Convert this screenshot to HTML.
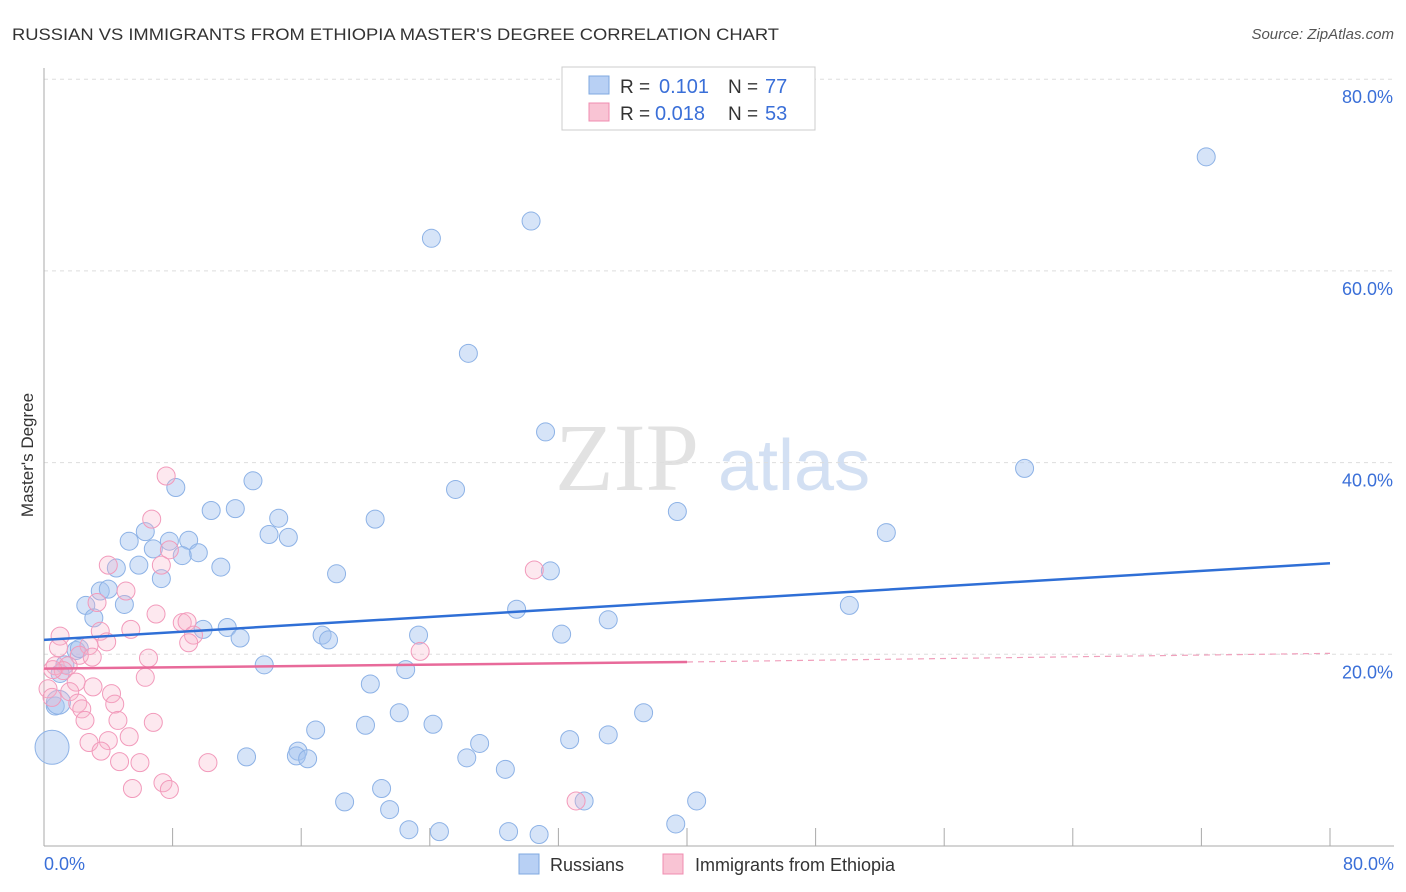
<!DOCTYPE html>
<html><head><meta charset="utf-8"><style>
body{margin:0;background:#fff;font-family:"Liberation Sans",sans-serif;}
svg{display:block}
</style></head><body>
<svg id="chart" width="1406" height="892">
<text x="12" y="40" font-size="17" fill="#333" textLength="767" lengthAdjust="spacingAndGlyphs">RUSSIAN VS IMMIGRANTS FROM ETHIOPIA MASTER'S DEGREE CORRELATION CHART</text>
<text x="1394" y="39" font-size="15" fill="#555" font-style="italic" text-anchor="end">Source: ZipAtlas.com</text>
<text x="33" y="455" font-size="17" fill="#333" transform="rotate(-90 33 455)" text-anchor="middle">Master's Degree</text>
<g><text x="555" y="490" font-size="96" font-family="Liberation Serif,serif" fill="#e2e2e2">ZIP</text><text x="718" y="490" font-size="72" fill="#d3e0f3">atlas</text></g>
<g id="grid"></g><g id="axes"></g><g id="pts"></g><g id="lines"></g>
<g>
<rect x="562" y="67" width="253" height="63" fill="#fff" stroke="#ccc"/>
<rect x="589" y="76" width="20" height="18" fill="#b8d0f4" stroke="#7fa9e0"/>
<rect x="589" y="103" width="20" height="18" fill="#f9c4d4" stroke="#f08cb0"/>
<text x="620" y="93" font-size="19" fill="#333">R = </text><text x="659" y="93" font-size="20" fill="#3a6fd8">0.101</text>
<text x="728" y="93" font-size="19" fill="#333">N = </text><text x="765" y="93" font-size="20" fill="#3a6fd8">77</text>
<text x="620" y="120" font-size="19" fill="#333">R = </text><text x="655" y="120" font-size="20" fill="#3a6fd8">0.018</text>
<text x="728" y="120" font-size="19" fill="#333">N = </text><text x="765" y="120" font-size="20" fill="#3a6fd8">53</text>
</g>
<g>
<rect x="519" y="854" width="20" height="20" fill="#b8d0f4" stroke="#7fa9e0"/>
<text x="550" y="871" font-size="18" fill="#333">Russians</text>
<rect x="663" y="854" width="20" height="20" fill="#f9c4d4" stroke="#f08cb0"/>
<text x="695" y="871" font-size="18" fill="#333">Immigrants from Ethiopia</text>
</g>
</svg>
<script>
const blueX=[72.3,30.3,24.1,26.4,31.2,61.0,13.0,8.2,25.6,10.4,11.9,14.6,20.6,39.4,52.4,6.3,14.0,15.2,5.3,7.8,9.0,6.8,9.6,8.6,5.9,4.5,11.0,7.3,18.2,31.5,3.5,4.0,2.6,5.0,29.4,50.1,3.1,35.1,9.9,11.4,17.3,17.7,23.3,32.2,12.2,2.0,2.2,13.7,22.5,1.3,1.0,20.3,0.7,22.1,37.3,20.0,24.2,16.9,27.1,32.7,35.1,15.8,15.7,16.4,26.3,12.6,28.7,21.0,18.7,21.5,33.6,40.6,22.7,24.6,28.9,30.8,39.3,0.5,0.9];
const blueY=[71.9,65.2,63.4,51.4,43.2,39.4,38.1,37.4,37.2,35.0,35.2,34.2,34.1,34.9,32.7,32.8,32.5,32.2,31.8,31.8,31.9,31.0,30.6,30.3,29.3,29.0,29.1,27.9,28.4,28.7,26.6,26.8,25.1,25.2,24.7,25.1,23.8,23.6,22.6,22.8,22.0,21.5,22.0,22.1,21.7,20.4,20.6,18.9,18.4,18.9,18.0,16.9,14.6,13.9,13.9,12.6,12.7,12.1,10.7,11.1,11.6,9.9,9.4,9.1,9.2,9.3,8.0,6.0,4.6,3.8,4.7,4.7,1.7,1.5,1.5,1.2,2.3,10.3,15.0];
const blueR=[9,9,9,9,9,9,9,9,9,9,9,9,9,9,9,9,9,9,9,9,9,9,9,9,9,9,9,9,9,9,9,9,9,9,9,9,9,9,9,9,9,9,9,9,9,9,9,9,9,9,9,9,9,9,9,9,9,9,9,9,9,9,9,9,9,9,9,9,9,9,9,9,9,9,9,9,9,17,12];
const pinkX=[7.6,6.7,7.8,4.0,7.3,5.1,3.3,6.97,8.6,8.9,9.3,1.0,3.5,5.4,3.9,9.0,2.8,0.9,2.2,6.5,3.0,0.7,1.5,1.2,2.0,6.3,3.05,0.25,1.6,4.2,4.4,2.1,2.35,2.55,4.6,6.8,4.0,5.3,2.8,3.55,4.7,5.97,10.2,7.4,5.5,7.8,30.5,23.4,33.1,0.5,0.55];
const pinkY=[38.6,34.1,30.9,29.3,29.3,26.6,25.4,24.2,23.3,23.4,22.0,21.9,22.4,22.6,21.3,21.2,20.9,20.7,19.9,19.6,19.7,18.8,18.8,18.3,17.1,17.6,16.6,16.4,16.1,15.9,14.8,14.9,14.3,13.1,13.1,12.9,11.0,11.4,10.8,9.9,8.8,8.7,8.7,6.6,6.0,5.9,28.8,20.3,4.7,15.5,18.4];
const xTicks=[0,8,16,24,32,40,48,56,64,72,80];
const yTicks=[20,40,60,80];
const blueLine=[21.5,29.5];
const pinkLine=[18.5,19.2,20.1];
const NS='http://www.w3.org/2000/svg';
const X=v=>44+v*16.075, Y=v=>846-v*9.585;
function mk(t,a,p){const e=document.createElementNS(NS,t);for(const k in a)e.setAttribute(k,a[k]);p.appendChild(e);return e;}
const grid=document.getElementById('grid'),axes=document.getElementById('axes'),pts=document.getElementById('pts'),lines=document.getElementById('lines');
yTicks.forEach(v=>{const l=mk('line',{x1:44,x2:1394,y1:Y(v),y2:Y(v),stroke:'#ddd','stroke-dasharray':'4,4'},grid);


const t=mk('text',{x:1393,y:Y(v)+24,'font-size':18,fill:'#3a6fd8','text-anchor':'end'},axes);t.textContent=v.toFixed(1)+'%';

});
const ax=mk('line',{x1:44,x2:1394,y1:846,y2:846,stroke:'#aaa'},axes);


const ay=mk('line',{x1:44,x2:44,y1:68,y2:846,stroke:'#aaa'},axes);


xTicks.forEach(v=>{const l=mk('line',{x1:X(v),x2:X(v),y1:828,y2:846,stroke:'#aaa'},axes);

});
[[0,'start',44],[80,'end',1394]].forEach(([v,a,x])=>{const t=mk('text',{x:x,y:870,'font-size':18,fill:'#3a6fd8','text-anchor':a},axes);t.textContent=v.toFixed(1)+'%';

});
blueX.forEach((v,i)=>{const c=mk('circle',{cx:X(v),cy:Y(blueY[i]),r:blueR[i],fill:'rgba(164,196,240,0.45)',stroke:'#8db2e6','stroke-width':1},pts);

});
pinkX.forEach((v,i)=>{const c=mk('circle',{cx:X(v),cy:Y(pinkY[i]),r:9,fill:'rgba(248,180,202,0.3)',stroke:'#f29abb','stroke-width':1},pts);

});
const bl=mk('line',{x1:X(0),y1:Y(blueLine[0]),x2:X(80),y2:Y(blueLine[1]),stroke:'#2f6fd6','stroke-width':2.5},lines);


const pl=mk('line',{x1:X(0),y1:Y(pinkLine[0]),x2:X(40),y2:Y(pinkLine[1]),stroke:'#e86a9a','stroke-width':2.5},lines);


const pd=mk('line',{x1:X(40),y1:Y(pinkLine[1]),x2:X(80),y2:Y(pinkLine[2]),stroke:'#f0a0bc','stroke-width':1.2,'stroke-dasharray':'6,5'},lines);


</script>
</body></html>
